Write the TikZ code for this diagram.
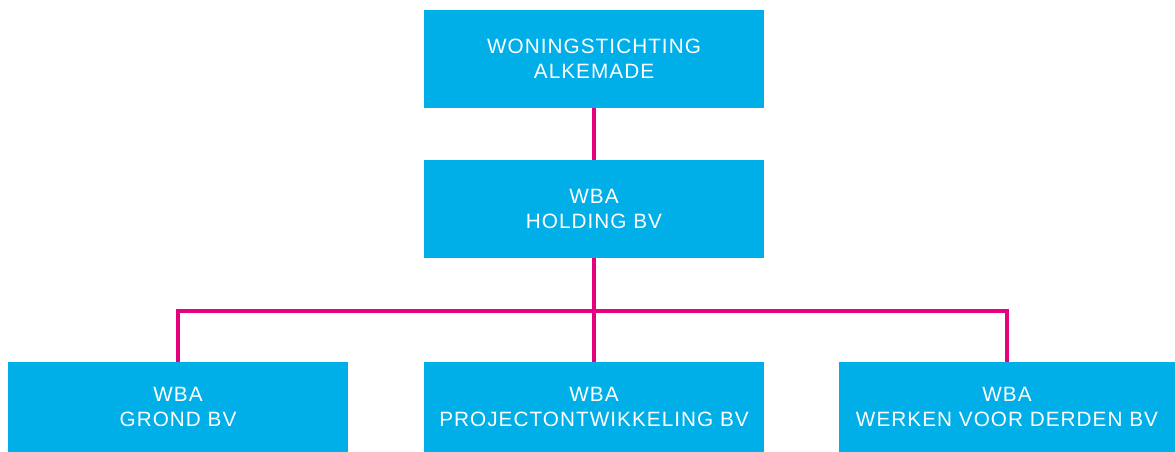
\documentclass[tikz,border=0pt]{standalone}
\usepackage{fontspec}
\setmainfont[LetterSpace=5]{Liberation Sans}
\definecolor{wbablue}{HTML}{00AEE8}
\definecolor{wbaroze}{HTML}{E5007D}
\tikzset{
  entity/.style={fill=wbablue, text=white, inner sep=0pt, align=center,
    minimum width=6.8cm, font=\fontsize{11.8}{14.2}\selectfont},
  tall/.style={minimum height=1.96cm},
  low/.style={minimum height=1.8cm},
  link/.style={draw=wbaroze, line width=2pt}
}
\begin{document}
\begin{tikzpicture}[x=0.02cm, y=-0.02cm]
\def\xl{178};
\def\xm{594};
\def\xr{1007};

\def\ya{59};
\def\yb{209};
\def\ysplit{311};
\def\yc{407};

\useasboundingbox (0,0) rectangle (1175,452);

\node[entity, tall] (stichting) at (\xm, \ya) {WONINGSTICHTING\\ALKEMADE};
\node[entity, tall] (holding) at (\xm, \yb) {WBA\\HOLDING BV};

\node[entity, low] (grond) at (\xl, \yc) {WBA\\GROND BV};
\node[entity, low] (project) at (\xm, \yc) {WBA\\PROJECTONTWIKKELING BV};
\node[entity, low, minimum width=6.72cm] (derden) at (\xr, \yc) {WBA\\WERKEN VOOR DERDEN BV};

\coordinate (split) at (\xm, \ysplit);

\draw[link] (stichting) -- (holding);
\draw[link] (holding) -- (split);
\draw[link] (grond) |- (split) -| (derden);
\draw[link] (split) -- (project);

\end{tikzpicture}
\end{document}
